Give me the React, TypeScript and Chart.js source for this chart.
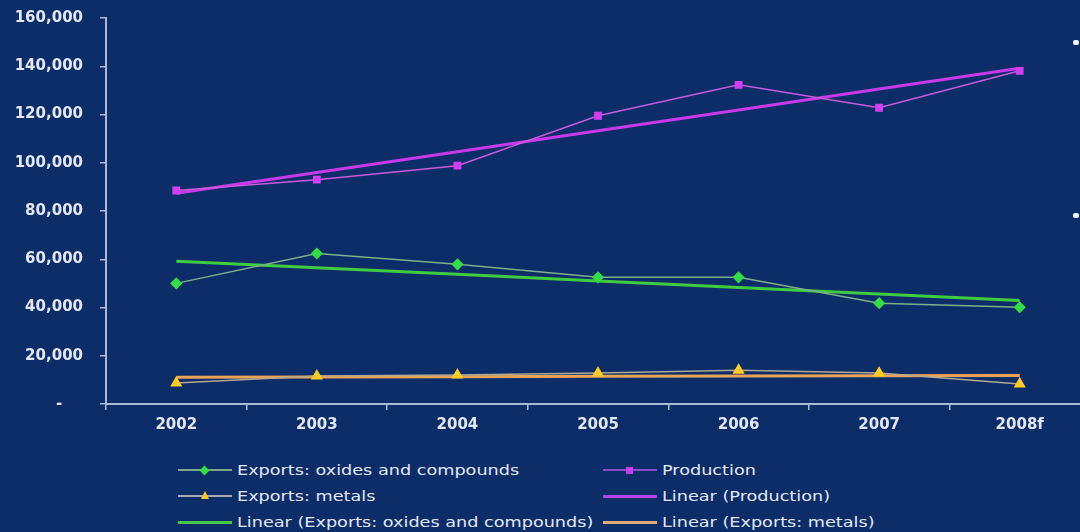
import React, { useEffect, useRef } from "react";
import { Chart, registerables } from "chart.js";

Chart.register(...registerables);

const categories = ["2002", "2003", "2004", "2005", "2006", "2007", "2008f"];
const production = [88500, 93000, 98800, 119500, 132300, 122800, 138100];
const exportsOxides = [50000, 62400, 57900, 52500, 52500, 41800, 40100];
const exportsMetals = [8700, 11600, 12000, 12800, 14000, 12800, 8300];
const linearProduction = [87400, 96000, 104600, 113300, 121900, 130600, 139200];
const linearOxides = [59200, 56500, 53800, 51000, 48300, 45600, 42900];
const linearMetals = [11100, 11200, 11300, 11500, 11600, 11700, 11800];
const yTicks = [0, 20000, 40000, 60000, 80000, 100000, 120000, 140000, 160000];

const BG = "#0c2d68";
const AXIS = "#a9bad9";
const TEXT = "#e2e7f3";

type LegendItem = {
  label: string;
  lineColor: string;
  lineWidth: number;
  marker?: "diamond" | "square" | "triangle";
  markerColor?: string;
  col: number;
  row: number;
};

const legendItems: LegendItem[] = [
  { label: "Exports: oxides and compounds", lineColor: "#7fa790", lineWidth: 1.5, marker: "diamond", markerColor: "#33dd44", col: 0, row: 0 },
  { label: "Production", lineColor: "#8a4cc8", lineWidth: 1.5, marker: "square", markerColor: "#c83cf0", col: 1, row: 0 },
  { label: "Exports: metals", lineColor: "#a8aab8", lineWidth: 1.5, marker: "triangle", markerColor: "#ffcc22", col: 0, row: 1 },
  { label: "Linear (Production)", lineColor: "#b244e6", lineWidth: 3, col: 1, row: 1 },
  { label: "Linear (Exports: oxides and compounds)", lineColor: "#48c848", lineWidth: 3, col: 0, row: 2 },
  { label: "Linear (Exports: metals)", lineColor: "#e2a878", lineWidth: 3, col: 1, row: 2 },
];

const colLineX = [178, 603];
const rowY = [470, 496, 522];

function Marker({ kind, color }: { kind: string; color: string }) {
  if (kind === "diamond") {
    return (
      <div style={{ position: "absolute", left: 23, top: -3.5, width: 7, height: 7, background: color, transform: "rotate(45deg)" }} />
    );
  }
  if (kind === "square") {
    return <div style={{ position: "absolute", left: 23, top: -3.5, width: 7, height: 7, background: color }} />;
  }
  return (
    <div
      style={{
        position: "absolute",
        left: 22.5,
        top: -5,
        width: 0,
        height: 0,
        borderLeft: "4.5px solid transparent",
        borderRight: "4.5px solid transparent",
        borderBottom: "8px solid " + color,
      }}
    />
  );
}

export default function App() {
  const ref = useRef<HTMLCanvasElement | null>(null);

  useEffect(() => {
    if (!ref.current) return;
    const chart = new Chart(ref.current, {
      type: "line",
      data: {
        labels: categories,
        datasets: [
          {
            label: "Exports: oxides and compounds",
            data: exportsOxides,
            borderColor: "#7fb08c",
            borderWidth: 1.5,
            pointStyle: "rectRot",
            pointRadius: 5,
            pointBackgroundColor: "#33dd44",
            pointBorderColor: "#33dd44",
            tension: 0,
          },
          {
            label: "Production",
            data: production,
            borderColor: "#c95ad8",
            borderWidth: 1.5,
            pointStyle: "rect",
            pointRadius: 4.5,
            pointBackgroundColor: "#d23ff0",
            pointBorderColor: "#d23ff0",
            tension: 0,
          },
          {
            label: "Exports: metals",
            data: exportsMetals,
            borderColor: "#b4a890",
            borderWidth: 1.5,
            pointStyle: "triangle",
            pointRadius: 5.5,
            pointBackgroundColor: "#ffcc22",
            pointBorderColor: "#ffcc22",
            tension: 0,
          },
          {
            label: "Linear (Production)",
            data: linearProduction,
            borderColor: "#c83ae8",
            borderWidth: 3,
            pointRadius: 0,
            tension: 0,
          },
          {
            label: "Linear (Exports: oxides and compounds)",
            data: linearOxides,
            borderColor: "#40cc40",
            borderWidth: 3,
            pointRadius: 0,
            tension: 0,
          },
          {
            label: "Linear (Exports: metals)",
            data: linearMetals,
            borderColor: "#e8a458",
            borderWidth: 3,
            pointRadius: 0,
            tension: 0,
          },
        ],
      },
      options: {
        responsive: false,
        animation: false,
        devicePixelRatio: 1,
        layout: { padding: { top: 9, left: 0, right: 0, bottom: 0 } },
        plugins: { legend: { display: false }, tooltip: { enabled: false } },
        scales: {
          x: {
            type: "category",
            offset: true,
            afterFit: (s: any) => {
              s.height = 41;
            },
            grid: {
              display: true,
              offset: true,
              drawOnChartArea: false,
              drawTicks: true,
              tickLength: 6,
              color: AXIS,
              lineWidth: 1.5,
            },
            border: { display: true, color: AXIS, width: 2 },
            ticks: {
              color: TEXT,
              padding: 6,
              font: { family: "DejaVu Sans", size: 15, weight: "bold" },
              maxRotation: 0,
              autoSkip: false,
            },
          },
          y: {
            min: 0,
            max: 160000,
            afterFit: (s: any) => {
              s.width = 106;
            },
            afterBuildTicks: (s: any) => {
              s.ticks = yTicks.map((v) => ({ value: v }));
            },
            grid: {
              display: true,
              drawOnChartArea: false,
              drawTicks: true,
              tickLength: 6,
              color: AXIS,
              lineWidth: 1.5,
            },
            border: { display: true, color: AXIS, width: 2 },
            ticks: {
              color: TEXT,
              padding: 17,
              font: { family: "DejaVu Sans", size: 15, weight: "bold" },
              callback: (v: any) => (Number(v) === 0 ? "-    " : Number(v).toLocaleString("en-US")),
            },
          },
        },
      },
    });
    return () => chart.destroy();
  }, []);

  return (
    <div
      style={{
        position: "absolute",
        left: 0,
        top: 0,
        width: 1080,
        height: 532,
        background: BG,
        overflow: "hidden",
        fontFamily: "DejaVu Sans, sans-serif",
      }}
    >
      <canvas ref={ref} width={1097} height={453} style={{ position: "absolute", left: 0, top: -8, width: 1097, height: 453 }} />
      <div style={{ position: "absolute", left: 1073, top: 40, width: 6, height: 5, borderRadius: 2, background: "#f2f5fb" }} />
      <div style={{ position: "absolute", left: 1073, top: 213, width: 6, height: 5, borderRadius: 2, background: "#f2f5fb" }} />
      {legendItems.map((it, i) => (
        <div key={i} style={{ position: "absolute", left: colLineX[it.col], top: rowY[it.row] }}>
          <div
            style={{
              position: "absolute",
              left: 0,
              top: -it.lineWidth / 2,
              width: 54,
              height: it.lineWidth,
              background: it.lineColor,
            }}
          />
          {it.marker ? <Marker kind={it.marker} color={it.markerColor || "#fff"} /> : null}
          <div
            style={{
              position: "absolute",
              left: 59,
              top: -9,
              fontSize: 14,
              lineHeight: "18px",
              color: TEXT,
              whiteSpace: "nowrap",
              transform: "scaleX(1.26)",
              transformOrigin: "0 50%",
            }}
          >
            {it.label}
          </div>
        </div>
      ))}
    </div>
  );
}
